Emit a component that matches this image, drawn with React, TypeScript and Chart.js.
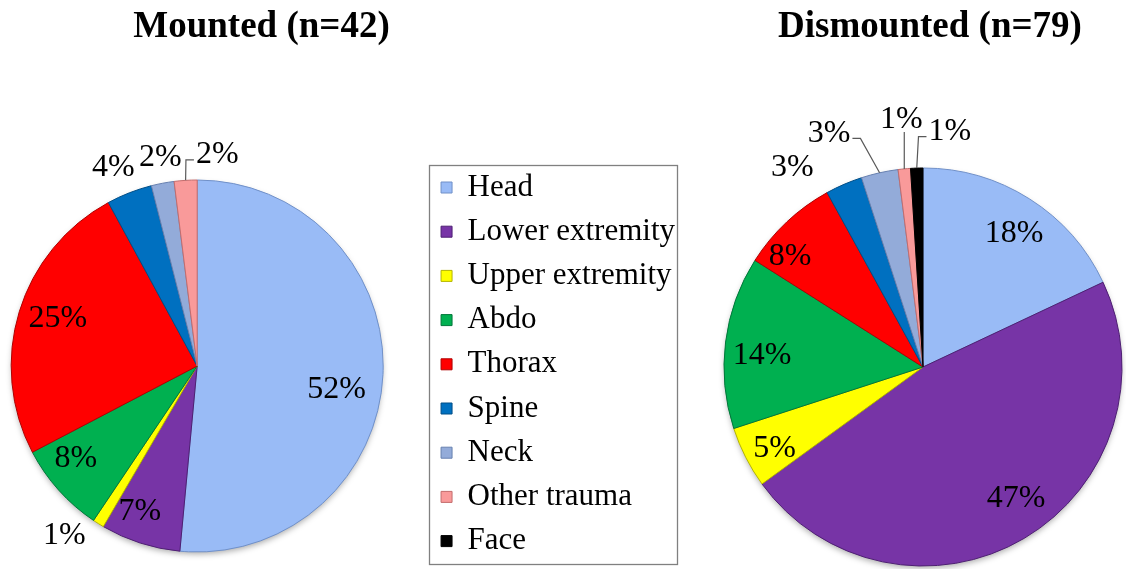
import { useEffect, useRef } from 'react';
import { Chart, registerables } from 'chart.js';

Chart.register(...registerables);

// ---- data ----
const categories = [
  'Head',
  'Lower extremity',
  'Upper extremity',
  'Abdo',
  'Thorax',
  'Spine',
  'Neck',
  'Other trauma',
  'Face',
];
const mountedValues = [52, 7, 1, 8, 25, 4, 2, 2, 0];
const dismountedValues = [18, 47, 5, 14, 8, 3, 3, 1, 1];
const mountedTitle = 'Mounted (n=42)';
const dismountedTitle = 'Dismounted (n=79)';

// ---- styles ----
const sliceColors = ['#99BBF6', '#7734A6', '#FFFF00', '#00B050', '#FF0000', '#0070C0', '#93ABD9', '#F99A9A', '#000000'];
const sliceBorders = ['#7090C8', '#4E1F73', '#B5B500', '#00773A', '#B00000', '#004E87', '#6780B0', '#C46D6D', '#000000'];

// label placement: [radius factor, angle shift (deg), leader line]
const mountedLabelLayout = [
  [0.76, 7.1, 0],
  [0.84, 3.7, 0],
  [1.16, 5.9, 0],
  [0.82, 4.6, 0],
  [0.79, 1.7, 0],
  [1.16, -1.5, 0],
  [1.14, 0.7, 0],
  [1.14, 9.0, 1],
  [0, 0, 0],
];
const dismountedLabelLayout = [
  [0.81, 2.0, 0],
  [0.81, -4.7, 0],
  [0.85, -1.7, 0],
  [0.81, -3.3, 0],
  [0.87, -7.0, 0],
  [1.2, -9.8, 0],
  [1.265, -9.3, 1],
  [1.246, 0.4, 1],
  [1.19, 8.3, 1],
];

const LEFT_X = -40;
const RIGHT_X = 700;

function makeLabelPlugin(layout: number[][]) {
  return {
    id: 'pieLabels',
    beforeDatasetsDraw(chart: any) {
      const meta = chart.getDatasetMeta(0);
      const arc = meta.data[0];
      if (!arc) return;
      const { x, y, outerRadius } = arc.getProps(['x', 'y', 'outerRadius'], true);
      const ctx = chart.ctx as CanvasRenderingContext2D;
      ctx.save();
      ctx.shadowColor = 'rgba(0,0,0,0.35)';
      ctx.shadowBlur = 6;
      ctx.shadowOffsetY = 3;
      ctx.fillStyle = '#fff';
      ctx.beginPath();
      ctx.arc(x, y, outerRadius - 1, 0, Math.PI * 2);
      ctx.fill();
      ctx.restore();
    },
    afterDatasetsDraw(chart: any) {
      const meta = chart.getDatasetMeta(0);
      const values = chart.data.datasets[0].data as number[];
      const ctx = chart.ctx as CanvasRenderingContext2D;
      ctx.save();
      ctx.font = '32px "Liberation Serif", "Times New Roman", serif';
      ctx.fillStyle = '#000';
      ctx.textAlign = 'center';
      ctx.textBaseline = 'middle';
      meta.data.forEach((arc: any, i: number) => {
        const v = values[i];
        if (!v) return;
        const { x, y, startAngle, endAngle, outerRadius } = arc.getProps(
          ['x', 'y', 'startAngle', 'endAngle', 'outerRadius'],
          true
        );
        const [rf, shift, leader] = layout[i];
        const mid = (startAngle + endAngle) / 2;
        const a = mid + (shift * Math.PI) / 180;
        const lx = x + Math.cos(a) * rf * outerRadius;
        const ly = y + Math.sin(a) * rf * outerRadius;
        const text = v + '%';
        ctx.fillText(text, lx, ly);
        if (leader) {
          const w = ctx.measureText(text).width;
          const ex = x + Math.cos(mid) * outerRadius;
          const ey = y + Math.sin(mid) * outerRadius;
          const l = lx - w / 2;
          const r = lx + w / 2;
          ctx.beginPath();
          ctx.strokeStyle = '#595959';
          ctx.lineWidth = 1.2;
          if (ex > l + 2 && ex < r - 2) {
            ctx.moveTo(ex, ly + 12);
            ctx.lineTo(ex, ey);
          } else {
            const sx = ex < l ? l - 2 : r + 2;
            const dir = ex < sx ? -1 : 1;
            const hx = sx + dir * Math.min(8, Math.abs(ex - sx));
            const sy = ly + 5;
            ctx.moveTo(sx, sy);
            ctx.lineTo(hx, sy);
            ctx.lineTo(ex, ey);
          }
          ctx.stroke();
        }
      });
      ctx.restore();
    },
  };
}

function makeTitlePlugin(text: string, x: number, y: number) {
  return {
    id: 'pieTitle',
    afterDraw(chart: any) {
      const ctx = chart.ctx as CanvasRenderingContext2D;
      ctx.save();
      ctx.font = 'bold 37px "Liberation Serif", "Times New Roman", serif';
      ctx.fillStyle = '#000';
      ctx.textAlign = 'center';
      ctx.textBaseline = 'alphabetic';
      ctx.fillText(text, x, y);
      ctx.restore();
    },
  };
}

const legendFrame = {
  id: 'legendFrame',
  afterDraw(chart: any) {
    const lg = chart.legend;
    if (!lg || !lg.legendHitBoxes || !lg.legendHitBoxes.length) return;
    const hb = lg.legendHitBoxes;
    let minL = Infinity;
    let maxR = -Infinity;
    hb.forEach((h: any) => {
      minL = Math.min(minL, h.left);
      maxR = Math.max(maxR, h.left + h.width);
    });
    const top = hb[0].top - 7;
    const bottom = hb[hb.length - 1].top + hb[hb.length - 1].height + 7;
    const ctx = chart.ctx as CanvasRenderingContext2D;
    ctx.save();
    ctx.strokeStyle = '#808080';
    ctx.lineWidth = 1.3;
    ctx.strokeRect(Math.round(minL - 12) + 0.5, Math.round(top) + 0.5, Math.round(maxR - minL + 14), Math.round(bottom - top));
    ctx.restore();
  },
};

export default function App() {
  const leftRef = useRef<HTMLCanvasElement | null>(null);
  const rightRef = useRef<HTMLCanvasElement | null>(null);

  useEffect(() => {
    document.body.style.margin = '0';
    const left = new Chart(leftRef.current as HTMLCanvasElement, {
      type: 'pie',
      data: {
        labels: categories,
        datasets: [
          {
            data: mountedValues,
            backgroundColor: sliceColors,
            borderColor: sliceBorders,
            borderWidth: 1,
            radius: 186,
            clip: false,
          } as any,
        ],
      },
      options: {
        responsive: false,
        animation: false,
        events: [],
        layout: { padding: { left: 6.5, top: 158.8, right: 0, bottom: 6.8 } },
        plugins: {
          title: { display: false },
          tooltip: { enabled: false },
          legend: {
            display: true,
            position: 'right',
            align: 'start',
            labels: {
              font: { family: '"Liberation Serif", "Times New Roman", serif', size: 31 },
              color: '#000',
              boxWidth: 11,
              boxHeight: 11,
              padding: 13.2,
            },
          },
        },
      } as any,
      plugins: [makeLabelPlugin(mountedLabelLayout), makeTitlePlugin(mountedTitle, 261.5 - LEFT_X, 37), legendFrame],
    });

    const right = new Chart(rightRef.current as HTMLCanvasElement, {
      type: 'pie',
      data: {
        labels: categories,
        datasets: [
          {
            data: dismountedValues,
            backgroundColor: sliceColors,
            borderColor: sliceBorders,
            borderWidth: 1,
            radius: 199,
            clip: false,
          } as any,
        ],
      },
      options: {
        responsive: false,
        animation: false,
        events: [],
        layout: { padding: { left: 20, top: 165, right: 0, bottom: 0 } },
        plugins: {
          title: { display: false },
          tooltip: { enabled: false },
          legend: { display: false },
        },
      } as any,
      plugins: [makeLabelPlugin(dismountedLabelLayout), makeTitlePlugin(dismountedTitle, 930 - RIGHT_X, 37)],
    });

    return () => {
      left.destroy();
      right.destroy();
    };
  }, []);

  return (
    <div style={{ position: 'relative', width: 1126, height: 569, overflow: 'hidden', background: '#fff' }}>
      <canvas
        ref={leftRef}
        width={725}
        height={580}
        style={{ position: 'absolute', left: LEFT_X, top: 0 }}
      />
      <canvas
        ref={rightRef}
        width={426}
        height={569}
        style={{ position: 'absolute', left: RIGHT_X, top: 0 }}
      />
    </div>
  );
}
